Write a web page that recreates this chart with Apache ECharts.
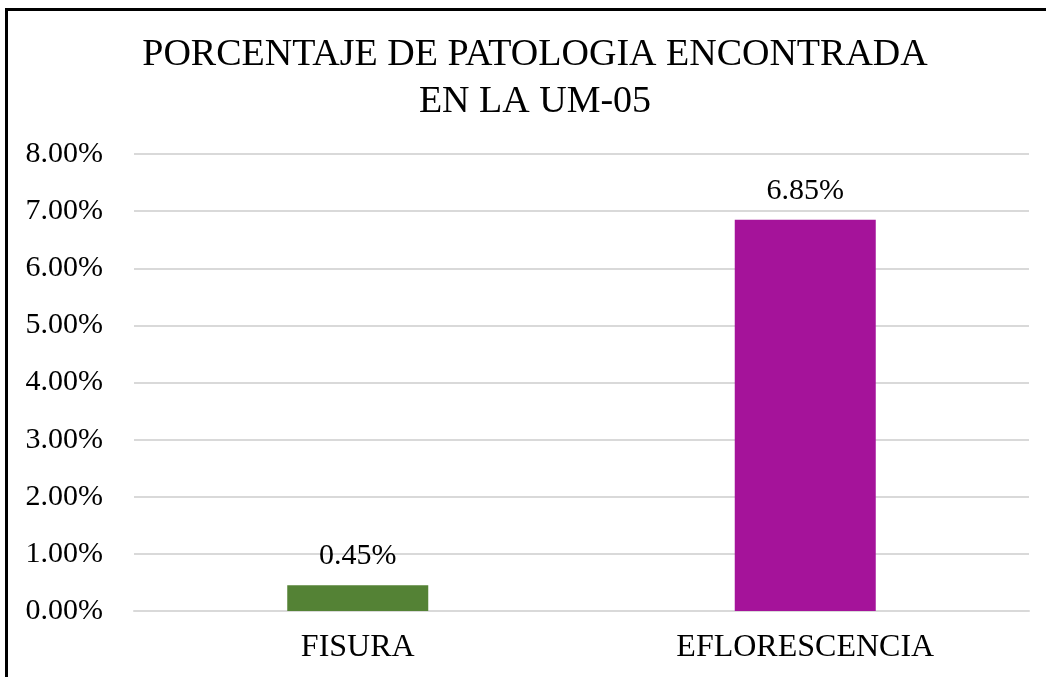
<!DOCTYPE html>
<html style="height: 100%">
<head>
	<meta charset="utf-8">
	<script src="https://cdn.jsdelivr.net/npm/echarts@6/dist/echarts.min.js"></script>
</head>
<body style="height: 100%; margin: 0; background: #fff">
	<div id="frame" style="position: absolute; left: 5px; top: 8px; width: 1100px; height: 720px; border-left: 3px solid #000; border-top: 3px solid #000"></div>
	<div id="container" style="position: absolute; left: 0; top: 0; width: 1046px; height: 677px"></div>
	<script type="text/javascript">
		var categories = ['FISURA', 'EFLORESCENCIA'];
		var values = [0.45, 6.85]; // en %
		var barColors = ['#548235', '#A5139A'];

		var fontName = '"Liberation Serif", "Times New Roman", serif';
		var myChart = echarts.init(document.getElementById('container'));
		var option = {
			animation: false,
			title: {
				text: 'PORCENTAJE DE PATOLOGIA ENCONTRADA\nEN LA UM-05',
				left: 530,
				top: 27,
				textAlign: 'center',
				textStyle: {
					fontFamily: fontName,
					fontWeight: 'normal',
					fontSize: 38,
					lineHeight: 47,
					color: '#000'
				}
			},
			grid: {
				left: 134,
				right: 17,
				top: 154,
				bottom: 66
			},
			xAxis: {
				type: 'category',
				data: categories,
				axisTick: { show: false },
				axisLine: { lineStyle: { color: '#d9d9d9', width: 2 } },
				axisLabel: {
					margin: 21,
					fontFamily: fontName,
					fontSize: 32,
					color: '#000'
				}
			},
			yAxis: {
				type: 'value',
				min: 0,
				max: 8,
				interval: 1,
				axisLabel: {
					margin: 31,
					fontFamily: fontName,
					fontSize: 30,
					color: '#000',
					formatter: function(v) { return v.toFixed(2) + '%'; }
				},
				splitLine: { lineStyle: { color: '#d9d9d9', width: 2 } }
			},
			series: [{
				type: 'bar',
				barWidth: 141,
				data: values.map(function(v, i) {
					return { value: v, itemStyle: { color: barColors[i] } };
				}),
				label: {
					show: true,
					position: 'top',
					distance: 14,
					fontFamily: fontName,
					fontSize: 30,
					color: '#000',
					formatter: function(p) { return p.value.toFixed(2) + '%'; }
				}
			}]
		};
		myChart.setOption(option);
	</script>
</body>
</html>
